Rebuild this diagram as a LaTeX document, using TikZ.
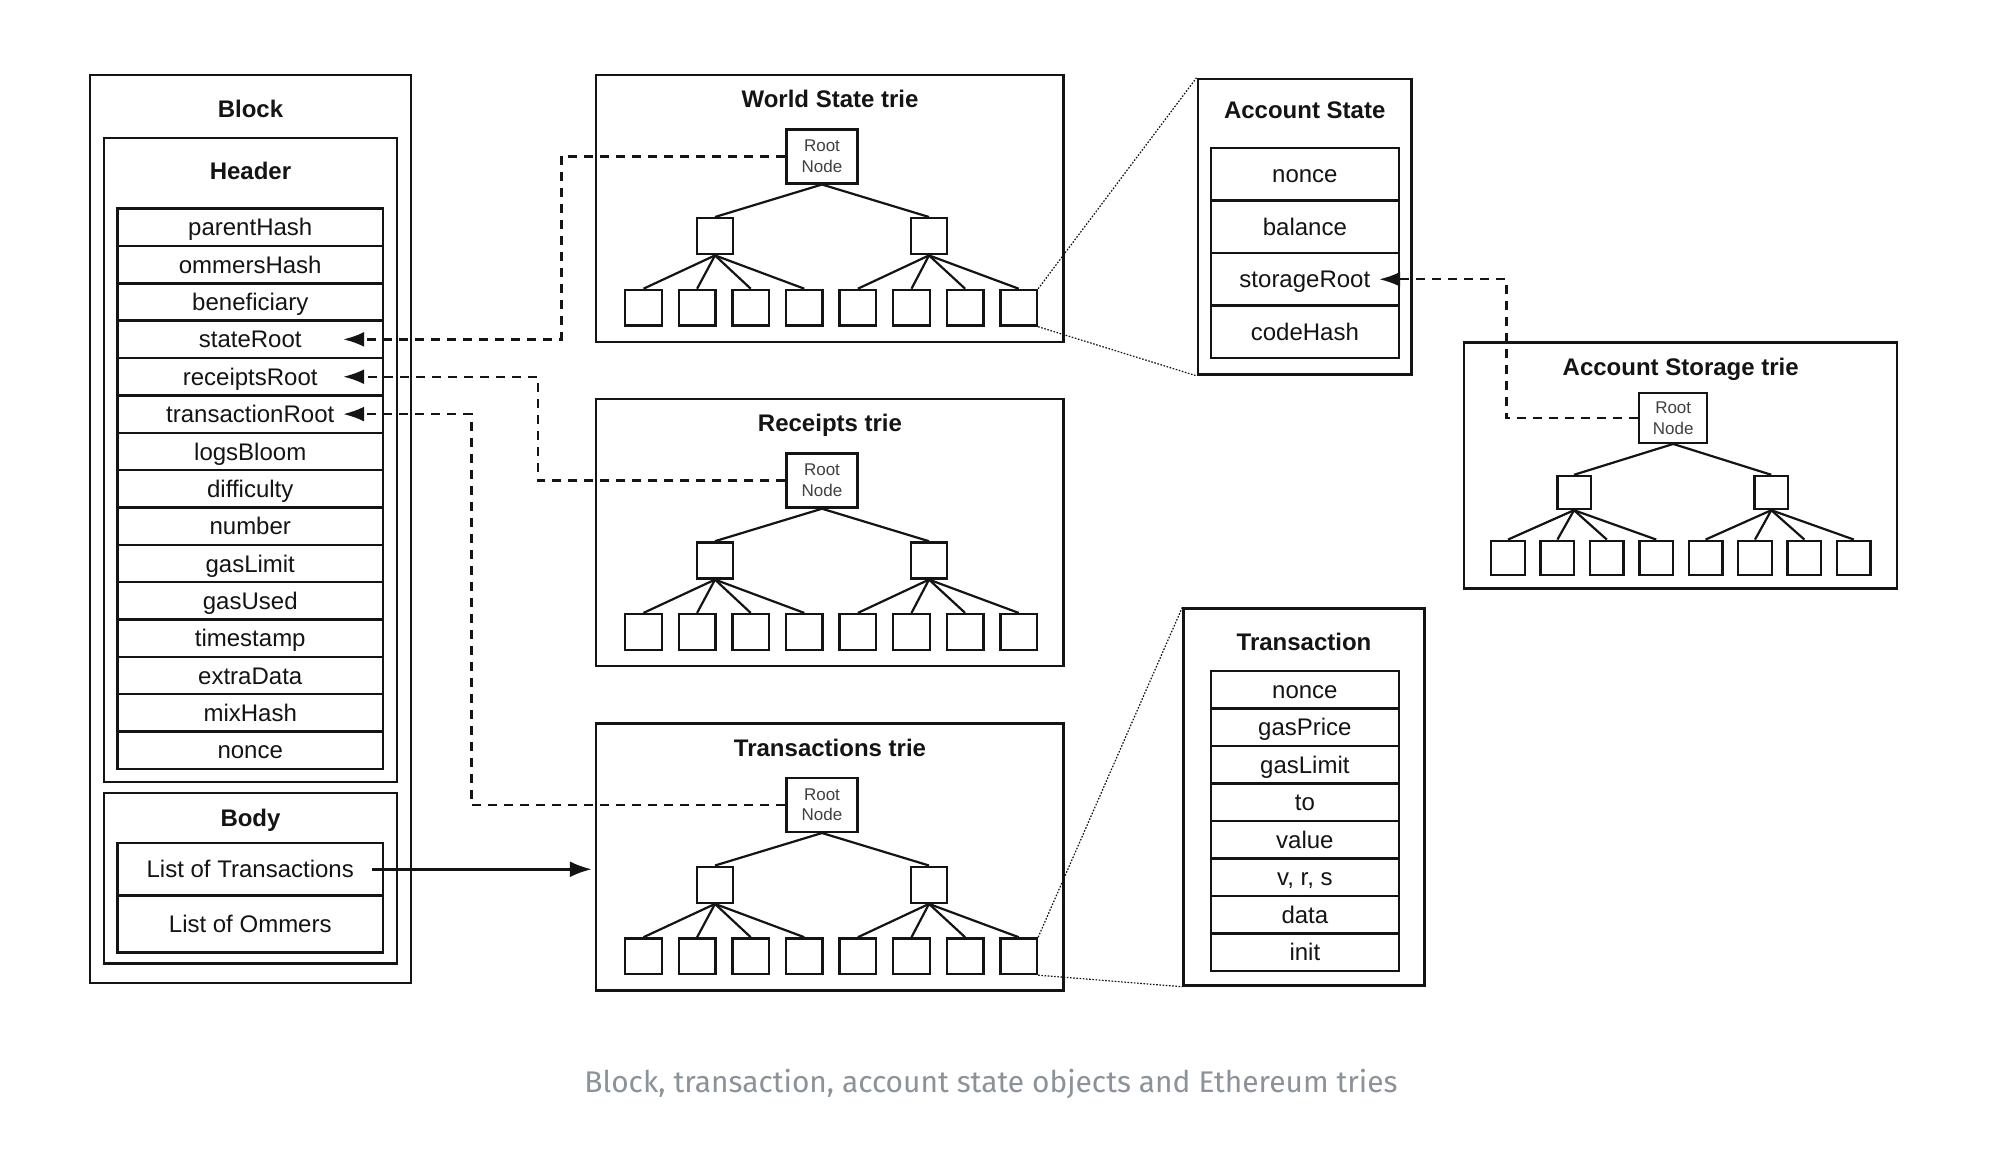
\documentclass[tikz,border=0pt]{standalone}
\usepackage{graphicx}
\usepackage{fontspec}
\setmainfont{Liberation Sans}
\newfontfamily\capfont{Fira Sans}
\usetikzlibrary{arrows.meta,calc,fit}
\definecolor{capgray}{HTML}{8B9299}
\definecolor{inkc}{HTML}{141414}
\tikzset{
  ln/.style={line width=1.1pt, draw=inkc},
  boxframe/.style={draw=inkc, line width=1.2pt, inner sep=0pt},
  fieldbox/.style={draw=inkc, line width=1.2pt, inner sep=0pt, minimum width=132.75pt, minimum height=18.68pt,
    text height=8.6pt, text depth=0pt, text=inkc, font=\fontsize{12pt}{14pt}\selectfont},
  ttl/.style={inner sep=0pt, text height=8.6pt, text depth=0pt, text=inkc, font=\fontsize{12pt}{14pt}\selectfont\bfseries},
  rootbox/.style={draw=inkc, line width=1.2pt, inner sep=0pt, minimum width=35.5pt, minimum height=27pt,
    align=center, text=black!75, font=\fontsize{8.5pt}{10.4pt}\selectfont},
  tnode/.style={draw=inkc, line width=1.2pt, inner sep=0pt, minimum width=18pt, minimum height=18pt},
  dasharrow/.style={draw=inkc, line width=1.2pt, dash pattern=on 4.5pt off 3.5pt, -{Latex[length=10.5pt,width=7.5pt]}},
  solidarrow/.style={draw=inkc, line width=1.3pt, -{Latex[length=11pt,width=8pt]}, shorten >=1.5pt},
  dotline/.style={draw=inkc, line width=0.6pt, dash pattern=on 0.8pt off 0.8pt}
}
\begin{document}
\begin{tikzpicture}[x=0.5pt,y=-0.5pt]
\useasboundingbox (0,0) rectangle (2014,1152);
\fill[white] (0,0) rectangle (2014,1152);

% ---------------- Block ----------------
\node[boxframe, fit={(90,75) (411,983)}] (block) {};
\node[ttl] (blocktitle) at (250.5,109) {Block};
\node[boxframe, fit={(104,138) (397,782)}] (header) {};
\node[ttl] (headertitle) at (250.5,171) {Header};
\foreach \t [count=\i] in {parentHash,ommersHash,beneficiary,stateRoot,receiptsRoot,transactionRoot,logsBloom,difficulty,number,gasLimit,gasUsed,timestamp,extraData,mixHash,nonce}
  \node[fieldbox] (h\i) at (250.25,{208.6+37.36*(\i-0.5)}) {\t};
\node[boxframe, fit={(104,792.7) (397,963.5)}] (body) {};
\node[ttl] (bodytitle) at (250.5,818) {Body};
\node[fieldbox, minimum height=26.25pt] (b1) at (250.25,869.25) {List of Transactions};
\node[fieldbox, minimum height=28.5pt] (b2) at (250.25,924) {List of Ommers};

% ---------------- main tries ----------------
\foreach \p/\dy/\tt in {ws/0/World State trie, rc/324.2/Receipts trie, tx/648.5/Transactions trie}{
  \node[boxframe, fit={(596,{75+\dy}) (1063.5,{342+\dy})}] (\p-box) {};
  \node[ttl] (\p-title) at (830,{99+\dy}) {\tt};
  \node[rootbox] (\p-root) at (822,{156.3+\dy}) {Root\\Node};
  \node[tnode] (\p-c1) at (715,{236.2+\dy}) {};
  \node[tnode] (\p-c2) at (929,{236.2+\dy}) {};
  \foreach \i in {1,...,8}
    \node[tnode, minimum width=18.25pt, minimum height=17.8pt] (\p-l\i) at ({643.5+53.6*(\i-1)},{307.7+\dy}) {};
  \draw[ln] (\p-root.south) -- (\p-c1.north);
  \draw[ln] (\p-root.south) -- (\p-c2.north);
  \foreach \i in {1,...,4} \draw[ln] (\p-c1.south) -- (\p-l\i.north);
  \foreach \i in {5,...,8} \draw[ln] (\p-c2.south) -- (\p-l\i.north);
}

% ---------------- Account State ----------------
\node[boxframe, fit={(1197.7,79) (1411.6,374.6)}] (acct) {};
\node[ttl] (accttitle) at (1304.7,109.5) {Account State};
\foreach \t [count=\i] in {nonce,balance,storageRoot,codeHash}
  \node[fieldbox, minimum width=93.85pt, minimum height=26.25pt] (a\i) at (1304.85,{148+52.5*(\i-0.5)}) {\t};

% ---------------- Account Storage trie ----------------
\node[boxframe, fit={(1464,342.5) (1896.7,588.5)}] (st-box) {};
\node[ttl] (st-title) at (1680.7,366.7) {Account Storage trie};
\node[rootbox, minimum width=34pt, minimum height=24.75pt] (st-root) at (1673.2,418) {Root\\Node};
\node[tnode, minimum width=16.7pt, minimum height=16.5pt] (st-c1) at (1574,492.5) {};
\node[tnode, minimum width=16.7pt, minimum height=16.5pt] (st-c2) at (1771.3,492.5) {};
\foreach \i in {1,...,8}
  \node[tnode, minimum width=16.75pt, minimum height=17.15pt] (st-l\i) at ({1508+49.4*(\i-1)},557.9) {};
\draw[ln] (st-root.south) -- (st-c1.north);
\draw[ln] (st-root.south) -- (st-c2.north);
\foreach \i in {1,...,4} \draw[ln] (st-c1.south) -- (st-l\i.north);
\foreach \i in {5,...,8} \draw[ln] (st-c2.south) -- (st-l\i.north);

% ---------------- Transaction ----------------
\node[boxframe, fit={(1183.6,608.3) (1424.4,985.5)}] (txn) {};
\node[ttl] (txntitle) at (1304,641.4) {Transaction};
\foreach \t [count=\i] in {nonce,gasPrice,gasLimit,to,value,{v, r, s},data,init}
  \node[fieldbox, minimum width=93.85pt, minimum height=18.75pt] (t\i) at (1304.85,{670.8+37.51*(\i-0.5)}) {\t};

% ---------------- connectors ----------------
\coordinate (h4tip) at ($(h4.east)+(-41,0)$);
\coordinate (h5tip) at ($(h5.east)+(-41,0)$);
\coordinate (h6tip) at ($(h6.east)+(-41,0)$);
\coordinate (a3tip) at ($(a3.east)+(-20.7,0)$);
\draw[dasharrow] (ws-root.west) -- ++(-224,0) |- (h4tip);
\draw[dasharrow] (rc-root.west) -- ++(-247.5,0) |- (h5tip);
\draw[dasharrow] (tx-root.west) -- ++(-314,0) |- (h6tip);
\draw[dasharrow] (st-root.west) -- ++(-131.5,0) |- (a3tip);
\coordinate (b1start) at ($(b1.east)+(-12,0)$);
\draw[solidarrow] (b1start) -- (tx-box.west |- b1start);

\draw[dotline] (ws-l8.north east) -- (acct.north west);
\draw[dotline] (ws-l8.south east) -- (acct.south west);
\draw[dotline] (tx-l8.north east) -- (txn.north west);
\draw[dotline] (tx-l8.south east) -- (txn.south west);

% ---------------- caption ----------------
\node[anchor=base, inner sep=0pt, text=capgray] (cap) at (991,1092)
  {\resizebox{406.5pt}{!}{\capfont Block, transaction, account state objects and Ethereum tries}};
\end{tikzpicture}
\end{document}
